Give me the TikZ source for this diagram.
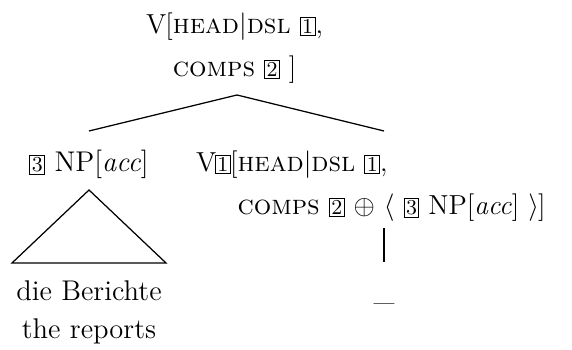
\documentclass[tikz,border=0pt]{standalone}
\usepackage{fontspec}
\newcommand{\tg}[1]{{\setlength{\fboxsep}{0.6pt}\setlength{\fboxrule}{0.4pt}\fbox{\fontsize{8.5}{8.5}\selectfont #1}}}
\begin{document}
\begin{tikzpicture}[x=0.4pt,y=-0.4pt,
  lbl/.style={inner sep=0pt, outer sep=0pt, font=\fontsize{11.4}{13.6}\selectfont},
  avm/.style={lbl, anchor=base west, font=\fontsize{11}{13.6}\selectfont},
  edge/.style={line width=0.5pt}]
\useasboundingbox (0,0) rectangle (572,350);
\def\arraystretch{1.26}
% top node
\node[avm] (top) at (146,34) {\begin{tabular}[t]{@{}l@{}l@{}}V\kern-0.3pt[&\textsc{head}|\textsc{dsl} \tg{1},\\ &\textsc{comps} \tg{2} ]\end{tabular}};
% left daughter
\node[lbl, anchor=base] (np) at (89,172) {\tg{3} NP[\textit{acc}]};
% right daughter
\node[avm] (v) at (196,172) {\begin{tabular}[t]{@{}l@{}l@{}}V\kern-0.5pt\tg{1}\kern-0.3pt[&\textsc{head}|\textsc{dsl} \tg{1},\\ &\textsc{comps} \tg{2} $\oplus$ $\langle$ \tg{3} NP[\textit{acc}] $\rangle$\kern-0.3pt]\end{tabular}};
% words
\node[lbl, anchor=base] (w1) at (89,301) {die Berichte};
\node[lbl, anchor=base] (w2) at (89,339) {the reports};
\node[lbl, anchor=base] (tr) at (384,301) {\_};
% coordinates
\coordinate (tA) at (237,95);
\coordinate (lA) at (89,131);
\coordinate (rA) at (384,131);
\coordinate (triT) at (89,190);
\coordinate (triL) at (12,263);
\coordinate (triR) at (166,263);
\coordinate (vT) at (384,228);
\coordinate (vB) at (384,262);
\draw[edge] (lA) -- (tA) -- (rA);
\draw[edge] (triT) -- (triL) -- (triR) -- cycle;
\draw[edge] (vT) -- (vB);
\end{tikzpicture}
\end{document}
